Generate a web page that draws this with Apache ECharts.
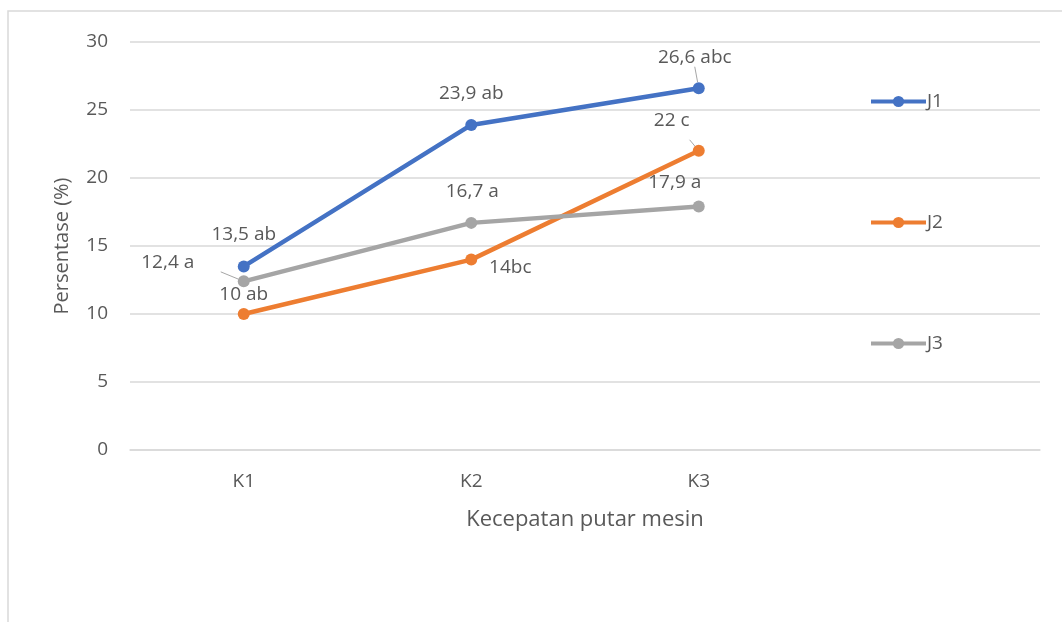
<!DOCTYPE html>
<html>
<head>
<meta charset="utf-8">
<script src="https://cdn.jsdelivr.net/npm/echarts@6/dist/echarts.min.js"></script>
<style>
  html, body { margin: 0; padding: 0; background: #fff; }
  #chart { width: 1062px; height: 622px; }
</style>
</head>
<body>
<div id="chart"></div>
<script>
// categories (the 4th slot is empty, the legend sits over it like in the original)
const categories = ["K1", "K2", "K3", ""];
const seriesNames = ["J1", "J2", "J3"];
const j1Values = [13.5, 23.9, 26.6];
const j2Values = [10, 14, 22];
const j3Values = [12.4, 16.7, 17.9];
const j1Labels = ["13,5 ab", "23,9 ab", "26,6 abc"];
const j2Labels = ["10 ab", "14bc", "22 c"];
const j3Labels = ["12,4 a", "16,7 a", "17,9 a"];
const yTicks = [0, 5, 10, 15, 20, 25, 30];

const colors = ["#4472C4", "#ED7D31", "#A5A5A5"];
const textColor = "#595959";
const font = "'Open Sans', Lato, sans-serif";

// label offsets from each point (px), and which ones get a leader line
const j1Offsets = [[0, -32], [0, -31], [-4, -31]];
const j2Offsets = [[0, -19], [39, 8], [-27, -30]];
const j3Offsets = [[-76, -19], [1, -31], [-24, -24]];
const j1Leader = [false, false, true];
const j2Leader = [false, false, true];
const j3Leader = [true, false, false];

function buildData(values, labels, offsets, leaders) {
  return values.map((v, i) => ({
    value: v,
    label: {
      show: true,
      position: "inside",
      offset: offsets[i],
      formatter: labels[i],
    },
    labelLine: { show: leaders[i] },
  }));
}

function buildSeries(name, values, labels, offsets, leaders, color) {
  return {
    name: name,
    type: "line",
    data: buildData(values, labels, offsets, leaders),
    symbol: "circle",
    symbolSize: 12,
    lineStyle: { width: 4.5, color: color },
    itemStyle: { color: color },
    label: {
      color: textColor,
      fontSize: 19,
      fontFamily: font,
      textBorderWidth: 0,
    },
    labelLine: {
      lineStyle: { color: "#A6A6A6", width: 1 },
    },
    z: 3,
  };
}

const chart = echarts.init(document.getElementById("chart"));

const option = {
  animation: false,
  backgroundColor: "#fff",
  graphic: [
    {
      type: "rect",
      shape: { x: 8, y: 11, width: 1060, height: 620 },
      style: { fill: "none", stroke: "#D9D9D9", lineWidth: 1.5 },
      silent: true,
    },
  ],
  grid: { left: 130, right: 22, top: 42, bottom: 172 },
  legend: {
    orient: "vertical",
    left: 864,
    top: 87,
    itemWidth: 55,
    itemHeight: 14,
    itemGap: 102,
    data: seriesNames,
    lineStyle: { width: 4 },
    textStyle: { color: textColor, fontSize: 19, fontFamily: font, padding: [0, 0, 0, -4] },
  },
  xAxis: {
    type: "category",
    data: categories,
    boundaryGap: true,
    name: "Kecepatan putar mesin",
    nameLocation: "middle",
    nameGap: 59,
    nameTextStyle: { color: textColor, fontSize: 22, fontFamily: font },
    axisLine: { show: true, lineStyle: { color: "#D9D9D9", width: 1.5 } },
    axisTick: { show: false },
    axisLabel: { color: textColor, fontSize: 19, fontFamily: font, margin: 22 },
  },
  yAxis: {
    type: "value",
    min: yTicks[0],
    max: yTicks[yTicks.length - 1],
    interval: 5,
    name: "Persentase (%)",
    nameLocation: "middle",
    nameGap: 58,
    nameTextStyle: { color: textColor, fontSize: 20, fontFamily: font },
    axisLine: { show: false },
    axisTick: { show: false },
    axisLabel: { color: textColor, fontSize: 19, fontFamily: font, margin: 22 },
    splitLine: { lineStyle: { color: "#D9D9D9", width: 1.5 } },
  },
  series: [
    buildSeries(seriesNames[0], j1Values, j1Labels, j1Offsets, j1Leader, colors[0]),
    buildSeries(seriesNames[1], j2Values, j2Labels, j2Offsets, j2Leader, colors[1]),
    buildSeries(seriesNames[2], j3Values, j3Labels, j3Offsets, j3Leader, colors[2]),
  ],
};

chart.setOption(option);
</script>
</body>
</html>
